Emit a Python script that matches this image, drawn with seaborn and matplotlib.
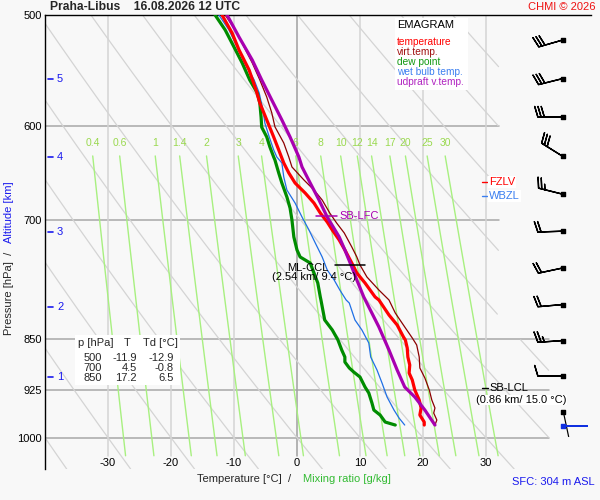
import numpy as np
import matplotlib
matplotlib.use("Agg")
import matplotlib.pyplot as plt
import matplotlib.transforms as mtransforms
from matplotlib.patches import Rectangle
import seaborn as sns

# ---------------- data ----------------
temp_p = [500.0, 515.0, 529.5, 547.2, 565.4, 577.6, 593.9, 610.7, 623.8, 637.3, 647.8, 658.6,
          669.5, 680.6, 691.8, 702.1, 711.3, 723.1, 735.0, 750.9, 763.3, 775.9, 793.9, 797.8,
          817.7, 831.2, 847.7, 851.9, 863.2, 876.0, 887.6, 899.3, 909.7, 924.7, 940.0, 952.4,
          963.5, 974.6, 979.4]
temp_t = [-11.9, -10.3, -9.2, -7.6, -6.5, -5.9, -4.8, -3.7, -2.9, -2.1, -1.3, -0.3,
          1.3, 2.7, 3.7, 4.8, 5.6, 6.7, 7.6, 8.7, 9.5, 10.8, 12.4, 13.0,
          14.6, 15.9, 16.9, 17.2, 17.5, 17.6, 17.9, 17.8, 18.3, 18.7, 19.4, 19.7,
          19.5, 20.2, 20.2]

virt_p = [500.0, 512.4, 526.9, 540.9, 556.2, 572.0, 587.1, 600.6, 616.7, 631.1, 641.5, 655.3,
          666.2, 677.2, 691.8, 703.3, 714.8, 731.4, 743.5, 753.3, 768.3, 784.9, 797.8, 815.0,
          833.9, 849.1, 858.9, 876.0, 891.9, 906.7, 924.7, 940.0, 952.4, 960.3, 971.4, 979.4]
virt_t = [-11.4, -9.8, -8.4, -7.1, -5.9, -4.8, -4.0, -3.5, -2.1, -1.3, -0.8, 1.1,
          2.7, 4.0, 5.2, 6.3, 7.5, 8.7, 9.5, 10.0, 11.1, 13.0, 14.6, 15.6,
          17.1, 18.3, 19.0, 19.4, 19.5, 20.3, 21.0, 21.4, 21.9, 21.7, 22.2, 21.9]

dew_p = [500.0, 512.4, 526.9, 540.9, 556.2, 568.2, 577.6, 591.0, 601.0, 610.7, 620.8, 631.1,
         634.2, 647.8, 658.6, 673.9, 686.2, 699.8, 719.5, 735.0, 743.5, 750.9, 763.3, 775.9,
         793.9, 797.8, 824.4, 838.0, 851.9, 866.0, 876.0, 883.2, 891.9, 897.8, 905.2, 920.2,
         929.3, 944.7, 955.6, 963.5, 974.6, 979.4]
dew_t = [-13.0, -11.4, -10.0, -8.7, -7.5, -6.3, -5.9, -5.7, -5.6, -4.8, -4.3, -3.7,
         -3.5, -2.9, -2.4, -1.6, -1.1, -0.8, -0.5, 0.0, 0.5, 2.1, 2.7, 3.3,
         3.7, 3.8, 4.4, 5.6, 6.5, 7.1, 7.6, 7.6, 8.3, 9.0, 10.0, 10.8,
         11.4, 11.9, 12.2, 13.2, 14.0, 15.6]

wet_p = [500.0, 512.4, 526.9, 540.9, 556.2, 568.2, 584.3, 596.9, 610.7, 623.8, 631.1, 637.3,
         652.1, 666.2, 680.6, 696.4, 711.3, 726.6, 743.5, 759.5, 772.1, 784.9, 797.8, 801.8,
         824.4, 838.0, 856.1, 876.0, 894.9, 914.2, 935.4, 955.6, 968.2, 979.4]
wet_t = [-12.4, -10.8, -9.5, -8.3, -6.8, -6.0, -5.4, -5.1, -4.4, -3.7, -3.2, -2.4,
         -2.1, -1.6, -0.3, 0.8, 1.9, 2.9, 4.0, 4.8, 5.9, 6.8, 7.8, 8.3,
         9.2, 10.3, 11.4, 11.7, 12.7, 13.5, 14.3, 15.4, 16.2, 17.1]

upd_p = [500.0, 518.4, 538.3, 556.2, 574.8, 593.9, 610.7, 631.1, 641.5, 658.6, 677.2, 696.4,
         719.5, 735.0, 755.8, 772.1, 793.9, 807.0, 833.9, 866.0, 894.9, 920.2, 935.4, 955.6, 979.4]
upd_t = [-11.1, -9.2, -7.1, -5.6, -4.0, -2.4, -1.1, 0.3, 0.8, 2.1, 3.5, 4.8,
         6.7, 7.6, 8.7, 9.5, 10.6, 11.4, 13.0, 14.6, 15.9, 17.1, 18.7, 20.3, 21.9]

# wind barbs (direction deg, speed kt)
wind_p = [520.9, 554.9, 591.0, 630.5, 670.8, 712.7, 757.0, 803.8, 852.7, 903.7]
wind_dir = [254, 256, 270, 302, 284, 268, 258, 265, 266, 270]
wind_spd = [30, 30, 30, 30, 25, 20, 20, 20, 25, 10]
low_wind_p = [959.0, 981.0]
low_wind_dir = [168, 90]
low_wind_col = ["black", "#1030e0"]

alt_km = [1, 2, 3, 4, 5]
alt_p = [905.2, 807.0, 713.9, 631.1, 554.9]

mix_ratios = [0.4, 0.6, 1, 1.4, 2, 3, 4, 6, 8, 10, 12, 14, 17, 20, 25, 30]
mix_labels = ["0.4", "0.6", "1", "1.4", "2", "3", "4", "6", "8", "10", "12", "14", "17", "20", "25", "30"]

p_ticks = [500, 600, 700, 850, 925, 1000]
t_ticks = [-30, -20, -10, 0, 10, 20, 30]

table_p = [500, 700, 850]
table_t = [-11.9, 4.5, 17.2]
table_td = [-12.9, -0.8, 6.5]

legend_names = ["temperature", "virt.temp.", "dew point", "wet bulb temp.", "udpraft v.temp."]
legend_cols = ["#ff0000", "#a01010", "#119911", "#3b7ff0", "#b022c0"]

lfc_p, lfc_t = 695.2, 4.65
ccl_p, ccl_t = 753.3, 8.4
lcl_p = 921.6
fzlv_p, wbzl_p = 657.5, 672.7

# ---------------- figure ----------------
sns.set_theme(style="white")
plt.rcParams["font.family"] = ["Liberation Sans", "DejaVu Sans"]
BG = "#f8f8f8"
W, H = 600, 500
fig = plt.figure(figsize=(6, 5), dpi=100, facecolor=BG)
ax = fig.add_axes([45 / W, 1 - 469 / H, 546 / W, 454 / H])
ax.set_facecolor(BG)
ax.set_yscale("log")
ax.set_ylim(1052.6, 500)
ax.set_xlim(-40, 46.67)

def fx(px):
    return px / W

def fy(py):
    return 1 - py / H

def tmax(p):
    return np.where(p < 850, 32.0, 40.0)

# isobars
for p in p_ticks[1:]:
    ax.plot([-40, float(tmax(np.array(p)))], [p, p], color="#a8a8a8", lw=1.1, zorder=1)
# isotherms
for t in t_ticks:
    ax.plot([t, t], [500, 1030], color="#a0a0a0" if t == 0 else "#d4d4d4", lw=1.1, zorder=1)

# dry adiabats
pp = np.geomspace(500, 1052.6, 300)
for k in range(-4, 10):
    theta = 273.15 + 10 * k
    tt = theta * (pp / 1000.0) ** 0.286 - 273.15
    tt = np.where(tt > tmax(pp), np.nan, tt)
    ax.plot(tt, pp, color="#d4d4d4", lw=0.9, zorder=1.2)

# mixing ratio lines
pm = np.geomspace(630, 1030, 50)
for w, lab in zip(mix_ratios, mix_labels):
    e = w * pm / (622.0 + w)
    le = np.log(e / 6.112)
    td = 243.5 * le / (17.67 - le)
    ax.plot(td, pm, color="#a8f080", lw=1.0, zorder=1.4)
    ax.text(td[0], 617, lab, color="#9ad94f", fontsize=7.5, ha="center", va="center", zorder=2)

# profiles
sns.lineplot(x=virt_t, y=virt_p, sort=False, estimator=None, color="#8b0000", lw=0.9, ax=ax, zorder=3)
sns.lineplot(x=wet_t, y=wet_p, sort=False, estimator=None, color="#1f6fe5", lw=0.9, ax=ax, zorder=3)
sns.lineplot(x=dew_t, y=dew_p, sort=False, estimator=None, color="#008c00", lw=2.3, ax=ax, zorder=4)
sns.lineplot(x=temp_t, y=temp_p, sort=False, estimator=None, color="#ff0000", lw=2.3, ax=ax, zorder=4)
sns.lineplot(x=upd_t, y=upd_p, sort=False, estimator=None, color="#a800b0", lw=2.3, ax=ax, zorder=5)

# axes styling
ax.set_yticks(p_ticks)
ax.set_yticklabels([str(p) for p in p_ticks])
ax.yaxis.set_minor_locator(matplotlib.ticker.NullLocator())
ax.set_xticks(t_ticks)
ax.set_xticklabels([str(t) for t in t_ticks])
ax.tick_params(axis="y", length=0, pad=2.2, labelsize=8, labelcolor="black")
ax.tick_params(axis="x", length=0, pad=-8, labelsize=8, labelcolor="black")
ax.grid(False)
for s in ["right", "bottom"]:
    ax.spines[s].set_visible(False)
for s in ["left", "top"]:
    ax.spines[s].set_color("black")
    ax.spines[s].set_linewidth(1.0)

# altitude labels
trans = mtransforms.blended_transform_factory(ax.transAxes, ax.transData)
for km, p in zip(alt_km, alt_p):
    ax.plot([3 / 546, 8 / 546], [p, p], color="#1a1aee", lw=1.2, transform=trans, zorder=6)
    ax.text(12 / 546, p, str(km), color="#1a1aee", fontsize=8, ha="left", va="center", transform=trans)

# parcel level annotations
ax.plot([lfc_t - 1.65, lfc_t + 1.65], [lfc_p, lfc_p], color="#a800b0", lw=1.1, zorder=6)
ax.text(lfc_t + 2.15, lfc_p, "SB-LFC", color="#a800b0", fontsize=8, ha="left", va="center", zorder=6)
ax.plot([ccl_t - 2.4, ccl_t + 2.4], [ccl_p, ccl_p], color="black", lw=1.1, zorder=6)
ax.text(1.7, 756.5, "ML-CCL", color="black", fontsize=8, ha="center", va="center", zorder=6)
ax.text(2.7, 768.5, "(2.54 km/ 9.4 °C)", color="black", fontsize=8, ha="center", va="center", zorder=6)
ax.plot([29.4, 30.3], [lcl_p, lcl_p], color="black", lw=1.0, zorder=6)
ax.text(30.5, lcl_p, "SB-LCL", color="black", fontsize=8, ha="left", va="center", zorder=6)
ax.text(35.6, 940.0, "(0.86 km/ 15.0 °C)", color="black", fontsize=8, ha="center", va="center", zorder=6,
        bbox=dict(facecolor="white", edgecolor="none", pad=0.3))
for p, lab, col in [(fzlv_p, "FZLV", "#ff0000"), (wbzl_p, "WBZL", "#3b7ff0")]:
    ax.plot([29.4, 30.2], [p, p], color=col, lw=1.0, zorder=6)
    ax.text(30.5, p, lab, color=col, fontsize=8, ha="left", va="center", zorder=6,
            bbox=dict(facecolor="white", edgecolor="none", pad=0.5))

# wind barbs
xb = 42.2
d = np.deg2rad(wind_dir)
u = -np.array(wind_spd) * np.sin(d)
v = -np.array(wind_spd) * np.cos(d)
ax.barbs([xb] * len(wind_p), wind_p, u, v, length=6.0, linewidth=1.0, color="black",
         sizes=dict(spacing=0.13, height=0.42), zorder=7, clip_on=False)
ax.scatter([xb] * len(wind_p), wind_p, marker="s", s=9, color="black", zorder=8, clip_on=False)
dl = np.deg2rad(low_wind_dir)
for p, ang, col in zip(low_wind_p, dl, low_wind_col):
    ax.quiver([xb], [p], [np.sin(ang)], [np.cos(ang)], angles="uv", scale_units="dots", scale=1 / 25.0,
              headwidth=0, headlength=0, headaxislength=0, width=1.2, units="dots", color=col, zorder=7)
    ax.scatter([xb], [p], marker="s", s=9, color=col, zorder=8)

# legend box
fig.add_artist(Rectangle((fx(395), fy(90)), 73 / W, 72 / H, transform=fig.transFigure,
                         facecolor="white", edgecolor="none", zorder=1))
fig.text(fx(397), fy(25), "EMAGRAM", fontsize=8, color="black", ha="left", va="center")
for i, (nm, col) in enumerate(zip(legend_names, legend_cols)):
    fig.text(fx(397), fy(42 + 10 * i), nm, fontsize=7.3, color=col, ha="left", va="center")

# table
fig.add_artist(Rectangle((fx(75), fy(385)), 105 / W, 50 / H, transform=fig.transFigure,
                         facecolor="white", edgecolor="none", zorder=1))
fig.text(fx(78), fy(343), "p [hPa]", fontsize=8, ha="left", va="center")
fig.text(fx(127), fy(343), "T", fontsize=8, ha="center", va="center")
fig.text(fx(143), fy(343), "Td [°C]", fontsize=8, ha="left", va="center")
for i, (p, t, td) in enumerate(zip(table_p, table_t, table_td)):
    yy = fy(358 + 10 * i)
    fig.text(fx(102), yy, f"{p}", fontsize=8, ha="right", va="center")
    fig.text(fx(137), yy, f"{t:.1f}", fontsize=8, ha="right", va="center")
    fig.text(fx(174), yy, f"{td:.1f}", fontsize=8, ha="right", va="center")

# titles and axis labels
fig.text(fx(50), fy(7), "Praha-Libus    16.08.2026 12 UTC", fontsize=8.7, fontweight="bold",
         ha="left", va="center")
fig.text(fx(595), fy(7), "CHMI © 2026", fontsize=8, color="#ee1111", ha="right", va="center")
fig.text(fx(197), fy(479), "Temperature [°C]  /", fontsize=8, ha="left", va="center")
fig.text(fx(303), fy(479), "Mixing ratio [g/kg]", fontsize=8, color="#33bb33", ha="left", va="center")
fig.text(fx(512), fy(482), "SFC: 304 m ASL", fontsize=8, color="#1a1aee", ha="left", va="center")
fig.text(fx(9), fy(293), "Pressure [hPa]  /", fontsize=8, rotation=90, ha="center", va="center")
fig.text(fx(9), fy(212.5), "Altitude [km]", fontsize=8, rotation=90, color="#1a1aee", ha="center", va="center")

fig.savefig("out.png", dpi=100, facecolor=BG)
